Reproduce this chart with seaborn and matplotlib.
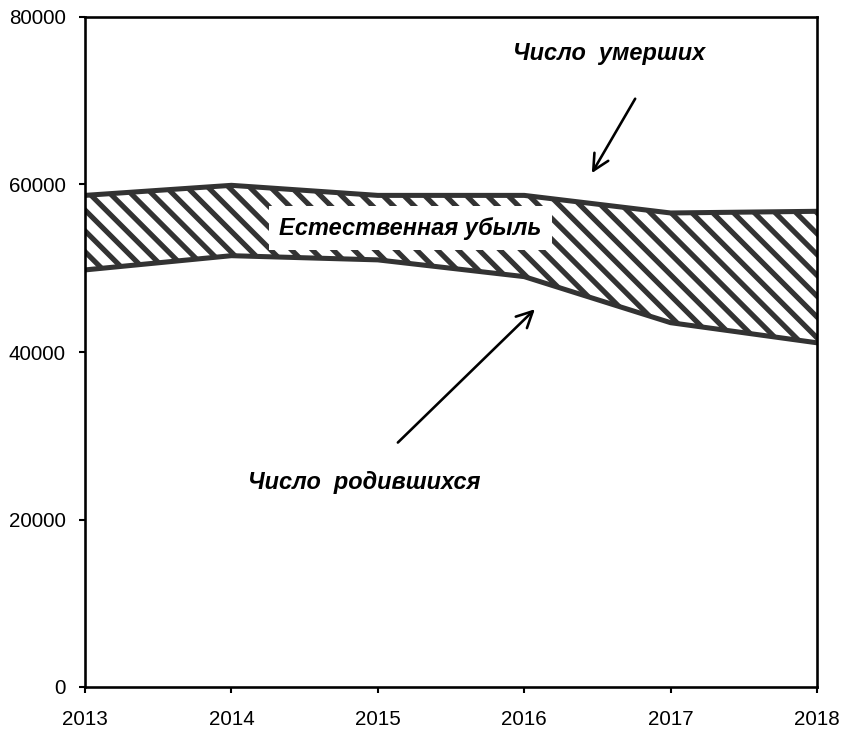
import pandas as pd
import matplotlib.pyplot as plt
import seaborn as sns

# Data
years = [2013, 2014, 2015, 2016, 2017, 2018]
deaths = [58700, 59900, 58700, 58700, 56600, 56800]   # Число умерших
births = [49800, 51500, 51000, 49000, 43500, 41100]   # Число родившихся
y_ticks = [0, 20000, 40000, 60000, 80000]

df = pd.DataFrame({"year": years, "deaths": deaths, "births": births})

sns.set_style("white")
plt.rcParams["font.family"] = ["Liberation Sans", "DejaVu Sans"]
plt.rcParams["text.color"] = "black"
plt.rcParams["hatch.linewidth"] = 3.0
plt.rcParams["hatch.color"] = "#333333"

dpi = 125
fig = plt.figure(figsize=(847 / dpi, 734 / dpi), dpi=dpi)
ax = fig.add_axes([85 / 847, 1 - 687 / 734, (817 - 85) / 847, (687 - 17) / 734])

# Hatched band between the two series (natural decrease)
ax.fill_between(df["year"], df["births"], df["deaths"], facecolor="white",
                edgecolor="#333333", hatch="\\\\", linewidth=0)

line_color = "#333333"
sns.lineplot(data=df, x="year", y="deaths", color=line_color, linewidth=2.9, ax=ax)
sns.lineplot(data=df, x="year", y="births", color=line_color, linewidth=2.9, ax=ax)

ax.set_xlim(2013, 2018)
ax.set_ylim(0, 80000)
ax.set_xticks(years)
ax.set_yticks(y_ticks)
ax.set_xlabel("")
ax.set_ylabel("")
ax.tick_params(axis="both", labelsize=11.9, direction="out", length=3.7, width=1.2,
               color="black", labelcolor="black", left=True, bottom=True)
ax.tick_params(axis="x", pad=9.5)
ax.tick_params(axis="y", pad=7.5)
for s in ax.spines.values():
    s.set_visible(True)
    s.set_color("black")
    s.set_linewidth(1.5)

txt = dict(fontsize=13.5, fontweight="bold", fontstyle="italic", ha="center",
           va="center", color="black")
ax.text(2016.58, 75700, "Число  умерших", **txt)
ax.text(2014.91, 24400, "Число  родившихся", **txt)
ax.text(2015.22, 54800, "Естественная убыль",
        bbox=dict(facecolor="white", edgecolor="none", pad=6), **txt)

arrow = dict(arrowstyle="->", color="black", lw=1.5, mutation_scale=23)
ax.annotate("", xy=(2016.45, 61000), xytext=(2016.77, 70600), arrowprops=arrow)
ax.annotate("", xy=(2016.09, 45400), xytext=(2015.12, 28900), arrowprops=arrow)

fig.savefig("out.png", dpi=dpi)
